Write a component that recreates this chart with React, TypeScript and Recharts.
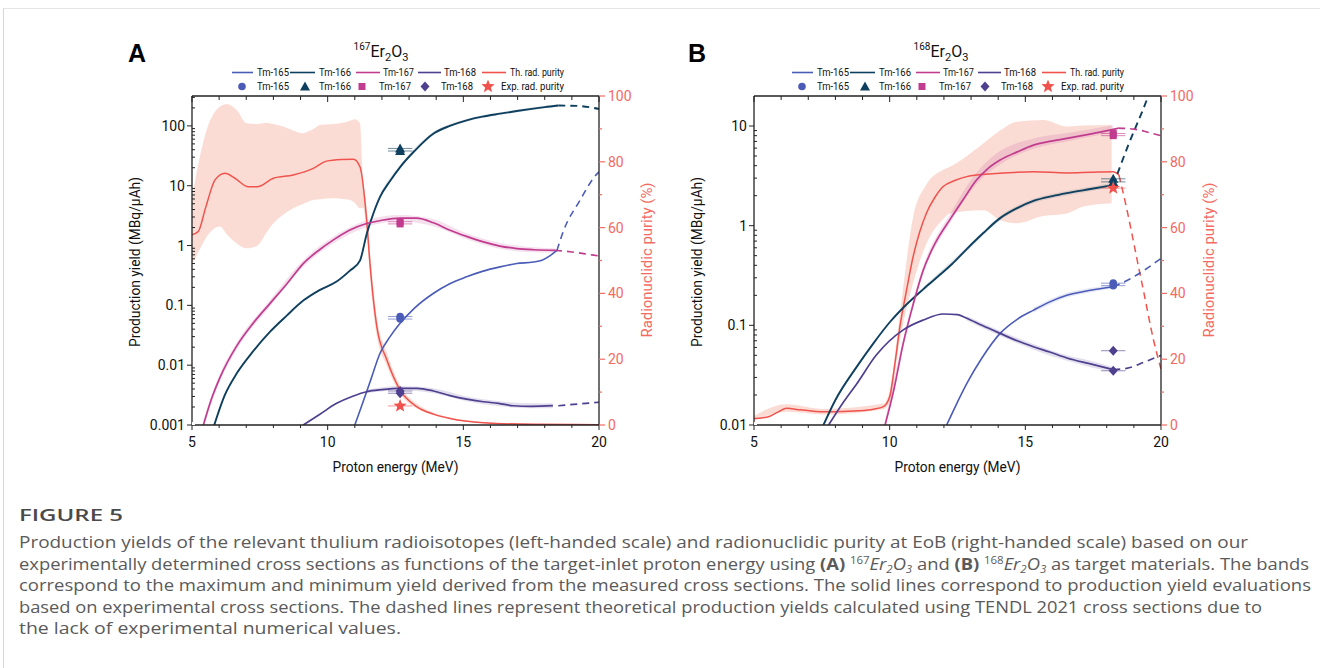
import React from "react";
import { ComposedChart, Line, Area, Scatter, XAxis, YAxis, ErrorBar } from "recharts";

const FONT = "Roboto, 'Liberation Sans', sans-serif";
const CAP_FONT = "'Open Sans', 'Noto Sans', sans-serif";

const C165 = "#4b5cb8";
const C166 = "#0e3f5e";
const C167 = "#c13c8f";
const C168 = "#4f3f8f";
const CRED = "#f0524d";
const RAXIS = "#f46a62";
const AXC = "#222";

/* ---------- shared axes ---------- */
const E_TICKS = [5, 6, 7, 8, 9, 10, 11, 12, 13, 14, 15, 16, 17, 18, 19, 20];
const P_TICKS = [0, 10, 20, 30, 40, 50, 60, 70, 80, 90, 100];
const A_DECADES = [0.001, 0.01, 0.1, 1, 10, 100];
const B_DECADES = [0.01, 0.1, 1, 10];

/* ---------- panel A: 167Er2O3 ---------- */
const A_E165 = [11.0, 11.3, 11.6, 11.93, 12.3, 12.67, 13.2, 13.89, 14.5, 15.12, 15.7, 16.35, 16.97, 17.58, 17.9, 18.2, 18.45];
const A_Y165 = [0.001, 0.0024, 0.0059, 0.0158, 0.03, 0.05, 0.09, 0.158, 0.23, 0.3, 0.37, 0.44, 0.5, 0.53, 0.57, 0.68, 0.83];
const A_E165D = [18.45, 18.7, 19.3, 19.85, 20];
const A_Y165D = [0.83, 1.8, 5.7, 14.4, 17];

const A_E166 = [5.82, 6.2, 6.65, 7.25, 7.87, 8.5, 9.1, 9.7, 10.33, 10.82, 11.19, 11.44, 11.7, 11.93, 12.3, 12.67, 13.2, 13.89, 14.5, 15.12, 15.7, 16.35, 16.97, 17.58, 18.0, 18.5];
const A_Y166 = [0.001, 0.0031, 0.0073, 0.017, 0.036, 0.068, 0.12, 0.18, 0.25, 0.38, 0.56, 1.58, 3.6, 6.5, 12, 20.5, 38, 74, 100, 124, 143, 160, 177, 194, 206, 219];
const A_E166D = [18.5, 19.2, 19.8, 20];
const A_Y166D = [219, 216, 200, 192];
const A_EB166 = [11.19, 11.93, 12.67, 13.89, 15.12, 16.35, 17.58, 18.5];
const A_LO166 = [0.54, 6.0, 19, 69, 117, 152, 184, 208];
const A_HI166 = [0.59, 7.0, 22, 79, 131, 168, 204, 230];

const A_E167 = [5.42, 5.7, 6.03, 6.65, 7.25, 7.87, 8.5, 9.1, 9.7, 10.2, 10.8, 11.44, 12.0, 12.67, 13.28, 13.9, 14.51, 15.12, 15.74, 16.35, 16.97, 17.6, 18.38];
const A_Y167 = [0.001, 0.0026, 0.0062, 0.021, 0.05, 0.107, 0.23, 0.5, 0.85, 1.23, 1.8, 2.33, 2.65, 2.87, 2.87, 2.4, 1.8, 1.42, 1.15, 0.98, 0.89, 0.85, 0.83];
const A_E167D = [18.38, 19.0, 19.8, 20];
const A_Y167D = [0.83, 0.78, 0.69, 0.67];
const A_EB167 = [5.42, 6.03, 6.65, 7.87, 9.1, 10.2, 11.44, 12.67, 13.9, 15.12, 16.35, 17.6, 18.38];
const A_LO167 = [0.0009, 0.0054, 0.0185, 0.095, 0.44, 1.08, 2.05, 2.55, 2.1, 1.27, 0.88, 0.77, 0.76];
const A_HI167 = [0.0012, 0.0072, 0.024, 0.122, 0.57, 1.4, 2.65, 3.25, 2.75, 1.6, 1.1, 0.94, 0.9];

const A_E168 = [9.1, 9.7, 10.33, 10.9, 11.44, 12.0, 12.67, 13.3, 13.9, 14.51, 15.12, 15.74, 16.3, 16.84, 17.5, 18.3];
const A_Y168 = [0.001, 0.0015, 0.0023, 0.003, 0.0036, 0.0039, 0.0041, 0.0041, 0.0037, 0.0031, 0.0027, 0.00245, 0.0023, 0.0021, 0.00205, 0.0021];
const A_E168D = [18.5, 20];
const A_Y168D = [0.0021, 0.0024];
const A_EB168 = [11.44, 12.67, 13.9, 15.12, 16.35, 17.5, 18.3];
const A_LO168 = [0.0034, 0.0038, 0.0034, 0.0025, 0.00205, 0.0019, 0.0019];
const A_HI168 = [0.0039, 0.0045, 0.0041, 0.003, 0.0025, 0.0023, 0.0023];

// theoretical radionuclidic purity (%), right axis
const A_EP = [5.0, 5.23, 5.5, 5.85, 6.22, 6.58, 7.08, 7.4, 8.0, 8.73, 9.47, 9.96, 10.5, 10.95, 11.19, 11.44, 11.56, 11.81, 12.18, 12.67, 13.28, 13.9, 14.51, 15.74, 17.6, 20];
const A_P = [57.8, 58.8, 66, 74.5, 76.5, 75, 72.4, 72.4, 75, 76, 78, 80.2, 80.7, 80.8, 78.5, 62, 49, 30, 19.8, 10.6, 5.6, 3.3, 2, 0.7, 0.2, 0.1];
const A_EB = [5.0, 5.2, 5.54, 6.03, 6.28, 6.65, 7.02, 7.4, 7.75, 8.0, 8.37, 8.73, 9.04, 9.47, 9.72, 10.21, 10.46, 10.83, 11.0, 11.19, 11.3, 11.44, 11.56, 11.81, 12.18, 12.67, 13.28, 13.9, 14.51, 15.74, 17.6, 20];
const A_BHI = [68.9, 78, 89.7, 96.8, 97.6, 95.7, 91.7, 91.5, 91.9, 91.5, 90.7, 89.5, 88.7, 90, 91.2, 91.5, 91.7, 92.5, 92.9, 91.7, 75, 66, 53, 33, 22, 12, 6.5, 3.8, 2.3, 0.8, 0.3, 0.2];
const A_BLO = [49, 52, 57.2, 60.3, 58, 55.2, 53.7, 54.5, 58.5, 61.3, 64, 65.9, 67, 68.4, 68.6, 68.9, 68.8, 68.4, 67.5, 65.9, 66, 58, 45, 27, 18, 9.5, 5, 3, 1.8, 0.6, 0.1, 0];

// measurements at 12.67 MeV
const A_XEXP = 12.67;
const A_EXP165 = [0.065, 0.059];
const A_EXP166 = [42, 38];
const A_EXP167 = [2.5, 2.3];
const A_EXP168 = [0.0037, 0.0034];
const A_EXPPUR = [5.8];

/* ---------- panel B: 168Er2O3 ---------- */
const B_E165 = [12.1, 12.5, 12.84, 13.4, 14.07, 14.7, 15.3, 15.9, 16.53, 17.4, 18.24];
const B_Y165 = [0.01, 0.017, 0.026, 0.047, 0.083, 0.115, 0.142, 0.172, 0.2, 0.225, 0.244];
const B_E165D = [18.24, 18.73, 19.4, 20];
const B_Y165D = [0.244, 0.28, 0.36, 0.47];
const B_EB165 = [15.3, 16.53, 17.4, 18.24];
const B_LO165 = [0.134, 0.19, 0.214, 0.234];
const B_HI165 = [0.15, 0.212, 0.237, 0.256];

const B_E166 = [7.56, 8.0, 8.79, 9.4, 10.01, 10.6, 11.24, 11.8, 12.3, 12.84, 13.45, 14.07, 14.7, 15.3, 16.0, 16.53, 17.4, 18.24];
const B_Y166 = [0.01, 0.0178, 0.0385, 0.066, 0.108, 0.16, 0.231, 0.312, 0.412, 0.582, 0.843, 1.19, 1.5, 1.77, 1.98, 2.12, 2.33, 2.55];
const B_E166D = [18.24, 18.8, 19.45, 19.7];
const B_Y166D = [2.55, 6.5, 17.5, 27];
const B_EB166 = [11.24, 12.84, 14.07, 15.3, 16.53, 18.24];
const B_LO166 = [0.22, 0.55, 1.13, 1.68, 2.01, 2.42];
const B_HI166 = [0.243, 0.61, 1.25, 1.86, 2.23, 2.68];

const B_E167 = [9.83, 10.16, 10.5, 10.86, 11.24, 11.67, 12.22, 12.7, 13.2, 13.6, 14.07, 14.7, 15.3, 15.9, 16.53, 17.38, 18.24, 18.42];
const B_Y167 = [0.01, 0.023, 0.066, 0.16, 0.359, 0.66, 1.15, 1.81, 2.87, 3.7, 4.55, 5.5, 6.43, 7.0, 7.5, 8.3, 9.25, 9.5];
const B_E167D = [18.42, 19.0, 19.7, 20];
const B_Y167D = [9.5, 9.3, 8.4, 8.0];
const B_EB167 = [9.83, 10.5, 11.24, 12.22, 13.2, 14.07, 15.3, 16.53, 17.4, 18.24];
const B_LO167 = [0.009, 0.06, 0.33, 1.05, 2.6, 4.1, 5.9, 7.0, 7.8, 8.6];
const B_HI167 = [0.011, 0.073, 0.4, 1.3, 3.4, 5.6, 7.5, 8.5, 9.3, 10.2];

const B_E168 = [7.75, 8.3, 8.79, 9.5, 10.5, 11.24, 11.97, 12.5, 12.84, 13.4, 14.07, 14.7, 15.3, 15.9, 16.53, 17.4, 18.24];
const B_Y168 = [0.01, 0.017, 0.026, 0.05, 0.09, 0.113, 0.13, 0.128, 0.118, 0.1, 0.083, 0.07, 0.061, 0.054, 0.047, 0.041, 0.036];
const B_E168D = [18.24, 18.73, 19.4, 20];
const B_Y168D = [0.036, 0.037, 0.043, 0.05];
const B_EB168 = [12.84, 14.07, 15.3, 16.53, 17.4, 18.24];
const B_LO168 = [0.112, 0.078, 0.057, 0.044, 0.038, 0.034];
const B_HI168 = [0.124, 0.088, 0.065, 0.05, 0.044, 0.038];

const B_EP = [5.0, 5.5, 5.9, 6.2, 6.7, 7.2, 7.56, 8.2, 8.79, 9.4, 9.77, 10.0, 10.2, 10.38, 10.6, 10.86, 11.1, 11.35, 11.65, 11.96, 12.4, 12.84, 13.5, 14.07, 15.3, 16.53, 17.4, 18.24, 18.45];
const B_P = [2.0, 2.4, 4.0, 5.1, 4.6, 4.2, 4.0, 4.1, 4.3, 4.8, 5.6, 8.6, 19, 30, 40, 51, 58.5, 64.3, 69, 72.4, 74.3, 75.5, 76.2, 76.5, 77, 76.6, 76.8, 77, 76];
const B_EPD = [18.45, 18.73, 18.98, 19.1, 19.35, 19.72, 20];
const B_PD = [76, 66, 56, 51, 41, 26, 17];
const B_EB = [5.0, 6.2, 7.56, 9.77, 10.0, 10.38, 10.86, 11.35, 11.96, 12.22, 13.45, 14.07, 14.68, 15.66, 16.53, 17.14, 18.18];
const B_BHI = [2.8, 6.3, 4.9, 6.5, 10.5, 34, 63, 73, 77.5, 78.5, 85.6, 89.5, 92.2, 92.7, 90.7, 91, 91.2];
const B_BLO = [1.3, 4.0, 3.2, 4.8, 7.0, 26, 43, 55, 62.5, 64.3, 65.3, 62.3, 61.3, 63.5, 64.3, 66.4, 67.4];

// measurements at 18.24 MeV
const B_XEXP = 18.24;
const B_EXP165 = [0.265, 0.25];
const B_EXP166 = [2.95, 2.75];
const B_EXP167 = [8.4, 8.0];
const B_EXP168 = [0.0556, 0.035];
const B_EXPPUR = [72];
const EXP_ERR = 0.45;

/* ---------- helpers ---------- */
const pts = (xs: number[], ys: number[]) => xs.map((x, i) => ({ x, y: ys[i] }));
const band = (xs: number[], lo: number[], hi: number[]) => xs.map((x, i) => ({ x, r: [lo[i], hi[i]] }));
const meas = (x: number, ys: number[]) => ys.map((y) => ({ x, y, ex: EXP_ERR }));

function logTicks(decades: number[], max: number) {
  const out: number[] = [];
  decades.forEach((d) => {
    for (let k = 1; k < 10; k++) {
      const v = +(k * d).toPrecision(3);
      if (v < max * 0.999) out.push(v);
    }
  });
  return out;
}
const isDecade = (v: number) => Math.abs(Math.log10(v) - Math.round(Math.log10(v))) < 1e-9;

function starPts(cx: number, cy: number, R: number, r: number) {
  const p: string[] = [];
  for (let i = 0; i < 10; i++) {
    const a = -Math.PI / 2 + (i * Math.PI) / 5;
    const rad = i % 2 === 0 ? R : r;
    p.push(`${cx + rad * Math.cos(a)},${cy + rad * Math.sin(a)}`);
  }
  return p.join(" ");
}

function Marker({ kind, cx, cy, color }: any) {
  if (kind === "circle") return <circle cx={cx} cy={cy} r={3.8} fill={color} />;
  if (kind === "triangle")
    return <polygon points={`${cx},${cy - 5} ${cx - 5},${cy + 4} ${cx + 5},${cy + 4}`} fill={color} />;
  if (kind === "square") return <rect x={cx - 3.5} y={cy - 3.5} width={7} height={7} fill={color} />;
  if (kind === "diamond")
    return <polygon points={`${cx},${cy - 5} ${cx + 4.5},${cy} ${cx},${cy + 5} ${cx - 4.5},${cy}`} fill={color} />;
  return <polygon points={starPts(cx, cy, 7, 3)} fill={color} />;
}

/* ---------- tick renderers ---------- */
const LeftTick = (p: any) => {
  const v = p.payload.value;
  const major = isDecade(v);
  return (
    <g>
      <line x1={p.x} x2={major ? p.x - 5 : p.x + 3} y1={p.y} y2={p.y} stroke={AXC} strokeWidth={1} />
      {major && (
        <text x={p.x - 7} y={p.y + 5} textAnchor="end" fontSize={14} fontFamily={FONT} fill="#111">
          {String(v)}
        </text>
      )}
    </g>
  );
};
const RightTick = (p: any) => {
  const v = p.payload.value;
  const major = v % 20 === 0;
  return (
    <g>
      <line x1={p.x} x2={p.x + (major ? 6 : 3)} y1={p.y} y2={p.y} stroke={RAXIS} strokeWidth={1.2} />
      {major && (
        <text x={p.x + 9} y={p.y + 5} textAnchor="start" fontSize={14} fontFamily={FONT} fill={RAXIS}>
          {v}
        </text>
      )}
    </g>
  );
};
const BottomTick = (p: any) => {
  const v = p.payload.value;
  const major = v % 5 === 0;
  return (
    <g>
      <line x1={p.x} x2={p.x} y1={p.y} y2={p.y + (major ? 5 : 3)} stroke={AXC} strokeWidth={1} />
      {major && (
        <text x={p.x} y={p.y + 22} textAnchor="middle" fontSize={14} fontFamily={FONT} fill="#111">
          {v}
        </text>
      )}
    </g>
  );
};
const TopTick = (p: any) => {
  const v = p.payload.value;
  const major = v % 5 === 0;
  return <line x1={p.x} x2={p.x} y1={p.y} y2={p.y + (major ? 6 : 4)} stroke={AXC} strokeWidth={1} />;
};

/* ---------- panel configs ---------- */
const PANEL_A = {
  logDomain: [0.001, 316],
  decades: A_DECADES,
  bands: [
    { data: band(A_EB, A_BLO, A_BHI), axis: "r", fill: "#f7c4b8", op: 0.6 },
    { data: band(A_EB167, A_LO167, A_HI167), axis: "l", fill: C167, op: 0.16 },
    { data: band(A_EB168, A_LO168, A_HI168), axis: "l", fill: C168, op: 0.16 },
    { data: band(A_EB166, A_LO166, A_HI166), axis: "l", fill: C166, op: 0.12 },
  ],
  lines: [
    { data: pts(A_EP, A_P), axis: "r", color: CRED, w: 1.5 },
    { data: pts(A_E166, A_Y166), axis: "l", color: C166, w: 1.9 },
    { data: pts(A_E167, A_Y167), axis: "l", color: C167, w: 1.7 },
    { data: pts(A_E165, A_Y165), axis: "l", color: C165, w: 1.6 },
    { data: pts(A_E168, A_Y168), axis: "l", color: C168, w: 1.7 },
    { data: pts(A_E166D, A_Y166D), axis: "l", color: C166, w: 1.9, dash: true },
    { data: pts(A_E167D, A_Y167D), axis: "l", color: C167, w: 1.7, dash: true },
    { data: pts(A_E165D, A_Y165D), axis: "l", color: C165, w: 1.6, dash: true },
    { data: pts(A_E168D, A_Y168D), axis: "l", color: C168, w: 1.7, dash: true },
  ],
  points: [
    { data: meas(A_XEXP, A_EXP166), axis: "l", color: C166, kind: "triangle" },
    { data: meas(A_XEXP, A_EXP167), axis: "l", color: C167, kind: "square" },
    { data: meas(A_XEXP, A_EXP165), axis: "l", color: C165, kind: "circle" },
    { data: meas(A_XEXP, A_EXP168), axis: "l", color: C168, kind: "diamond" },
    { data: meas(A_XEXP, A_EXPPUR), axis: "r", color: CRED, kind: "star" },
  ],
};

const PANEL_B = {
  logDomain: [0.01, 20],
  decades: B_DECADES,
  bands: [
    { data: band(B_EB, B_BLO, B_BHI), axis: "r", fill: "#f7c4b8", op: 0.6 },
    { data: band(B_EB167, B_LO167, B_HI167), axis: "l", fill: C167, op: 0.16 },
    { data: band(B_EB168, B_LO168, B_HI168), axis: "l", fill: C168, op: 0.16 },
    { data: band(B_EB165, B_LO165, B_HI165), axis: "l", fill: C165, op: 0.14 },
    { data: band(B_EB166, B_LO166, B_HI166), axis: "l", fill: C166, op: 0.12 },
  ],
  lines: [
    { data: pts(B_EP, B_P), axis: "r", color: CRED, w: 1.5 },
    { data: pts(B_EPD, B_PD), axis: "r", color: CRED, w: 1.5, dash: true },
    { data: pts(B_E166, B_Y166), axis: "l", color: C166, w: 1.9 },
    { data: pts(B_E167, B_Y167), axis: "l", color: C167, w: 1.7 },
    { data: pts(B_E165, B_Y165), axis: "l", color: C165, w: 1.6 },
    { data: pts(B_E168, B_Y168), axis: "l", color: C168, w: 1.7 },
    { data: pts(B_E166D, B_Y166D), axis: "l", color: C166, w: 1.9, dash: true },
    { data: pts(B_E167D, B_Y167D), axis: "l", color: C167, w: 1.7, dash: true },
    { data: pts(B_E165D, B_Y165D), axis: "l", color: C165, w: 1.6, dash: true },
    { data: pts(B_E168D, B_Y168D), axis: "l", color: C168, w: 1.7, dash: true },
  ],
  points: [
    { data: meas(B_XEXP, B_EXP167), axis: "l", color: C167, kind: "square" },
    { data: meas(B_XEXP, B_EXP166), axis: "l", color: C166, kind: "triangle" },
    { data: meas(B_XEXP, B_EXP165), axis: "l", color: C165, kind: "circle" },
    { data: meas(B_XEXP, B_EXP168), axis: "l", color: C168, kind: "diamond" },
    { data: meas(B_XEXP, B_EXPPUR), axis: "r", color: CRED, kind: "star" },
  ],
};

const AX = { stroke: AXC, strokeWidth: 1.3 };

function Panel({ left, cfg }: any) {
  return (
    <div style={{ position: "absolute", left, top: 80 }}>
      <ComposedChart width={560} height={380} margin={{ top: 10, right: 41, bottom: 10, left: 32 }}>
        <XAxis xAxisId="b" type="number" dataKey="x" domain={[5, 20]} ticks={E_TICKS} interval={0}
          allowDataOverflow height={25} tickSize={0} tickMargin={0} tickLine={false} axisLine={AX} tick={BottomTick} />
        <XAxis xAxisId="t" orientation="top" type="number" dataKey="x" domain={[5, 20]} ticks={E_TICKS} interval={0}
          allowDataOverflow height={6} tickSize={0} tickMargin={0} tickLine={false} axisLine={AX} tick={TopTick} />
        <YAxis yAxisId="l" type="number" dataKey="y" scale="log" domain={cfg.logDomain} ticks={logTicks(cfg.decades, cfg.logDomain[1])}
          interval={0} allowDataOverflow width={40} tickSize={0} tickMargin={0} tickLine={false} axisLine={AX} tick={LeftTick} />
        <YAxis yAxisId="r" orientation="right" type="number" dataKey="y" domain={[0, 100]} ticks={P_TICKS} interval={0}
          allowDataOverflow width={40} tickSize={0} tickMargin={0} tickLine={false} axisLine={AX} tick={RightTick} />
        {/* anchor for the top frame axis */}
        <Line xAxisId="t" yAxisId="r" data={[{ x: 5, y: 0 }]} dataKey="y" stroke="none" dot={false} isAnimationActive={false} />
        {cfg.bands.map((b: any, i: number) => (
          <Area key={"b" + i} xAxisId="b" yAxisId={b.axis} data={b.data} dataKey="r" type="monotone"
            stroke="none" fill={b.fill} fillOpacity={b.op} isAnimationActive={false} />
        ))}
        {cfg.lines.map((l: any, i: number) => (
          <Line key={"l" + i} xAxisId="b" yAxisId={l.axis} data={l.data} dataKey="y" type="monotone"
            stroke={l.color} strokeWidth={l.w} strokeDasharray={l.dash ? "7 5" : undefined}
            dot={false} activeDot={false} isAnimationActive={false} />
        ))}
        {cfg.points.map((s: any, i: number) => (
          <Scatter key={"s" + i} xAxisId="b" yAxisId={s.axis} data={s.data} dataKey="y" isAnimationActive={false}
            shape={(p: any) => <Marker kind={s.kind} cx={p.cx} cy={p.cy} color={s.color} />}>
            <ErrorBar dataKey="ex" direction="x" width={0} stroke={s.color} strokeOpacity={0.6} strokeWidth={1} />
          </Scatter>
        ))}
      </ComposedChart>
    </div>
  );
}

/* ---------- legend / titles ---------- */
const LEG_LINES = [
  { x1: 232, x2: 253, tx: 257, tw: 32, label: "Tm-165", color: C165 },
  { x1: 290, x2: 315, tx: 319, tw: 32, label: "Tm-166", color: C166 },
  { x1: 356, x2: 380, tx: 383, tw: 31, label: "Tm-167", color: C167 },
  { x1: 418, x2: 441, tx: 444, tw: 32, label: "Tm-168", color: C168 },
  { x1: 482, x2: 506, tx: 510, tw: 54, label: "Th. rad. purity", color: CRED },
];
const LEG_MARKS = [
  { mx: 242, tx: 257, tw: 32, label: "Tm-165", color: C165, kind: "circle" },
  { mx: 305, tx: 319, tw: 32, label: "Tm-166", color: C166, kind: "triangle" },
  { mx: 362, tx: 379, tw: 32, label: "Tm-167", color: C167, kind: "square" },
  { mx: 425, tx: 441, tw: 32, label: "Tm-168", color: C168, kind: "diamond" },
  { mx: 488, tx: 501, tw: 63, label: "Exp. rad. purity", color: CRED, kind: "star" },
];

function PanelText({ dx, letter, iso, plotL, plotR }: any) {
  const midX = (plotL + plotR) / 2;
  return (
    <g fontFamily={FONT}>
      <text x={128 + dx} y={62} fontSize={25} fontWeight="bold" fontFamily="'Liberation Sans', Arial, sans-serif" fill="#000">
        {letter}
      </text>
      <text x={381 + dx} y={57} fontSize={16} textAnchor="middle" fill="#111">
        <tspan fontSize={10} dy={-7}>{iso}</tspan>
        <tspan dy={7}>Er</tspan>
        <tspan fontSize={11} dy={4}>2</tspan>
        <tspan dy={-4}>O</tspan>
        <tspan fontSize={11} dy={4}>3</tspan>
      </text>
      {LEG_LINES.map((l) => (
        <g key={l.label}>
          <line x1={l.x1 + dx} x2={l.x2 + dx} y1={72.5} y2={72.5} stroke={l.color} strokeWidth={1.6} />
          <text x={l.tx + dx} y={76} fontSize={10} fill="#111" textLength={l.tw} lengthAdjust="spacingAndGlyphs">
            {l.label}
          </text>
        </g>
      ))}
      {LEG_MARKS.map((m) => (
        <g key={m.label + m.kind}>
          <Marker kind={m.kind} cx={m.mx + dx} cy={86.5} color={m.color} />
          <text x={m.tx + dx} y={90} fontSize={10} fill="#111" textLength={m.tw} lengthAdjust="spacingAndGlyphs">
            {m.label}
          </text>
        </g>
      ))}
      <text x={midX} y={472} fontSize={15} textAnchor="middle" fill="#111" textLength={126} lengthAdjust="spacingAndGlyphs">
        Proton energy (MeV)
      </text>
      <text transform={`translate(${plotL - 52},262) rotate(-90)`} fontSize={15} textAnchor="middle" fill="#111"
        textLength={170} lengthAdjust="spacingAndGlyphs">
        Production yield (MBq/µAh)
      </text>
      <text transform={`translate(${plotR + 52.5},260) rotate(-90)`} fontSize={15} textAnchor="middle" fill={RAXIS}
        textLength={155} lengthAdjust="spacingAndGlyphs">
        Radionuclidic purity (%)
      </text>
    </g>
  );
}

const CAP_LINES = [
  "Production yields of the relevant thulium radioisotopes (left-handed scale) and radionuclidic purity at EoB (right-handed scale) based on our",
  "correspond to the maximum and minimum yield derived from the measured cross sections. The solid lines correspond to production yield evaluations",
  "based on experimental cross sections. The dashed lines represent theoretical production yields calculated using TENDL 2021 cross sections due to",
  "the lack of experimental numerical values.",
];

function Caption() {
  const fill = "#5a5a5a";
  return (
    <g fontFamily={CAP_FONT} fill={fill}>
      <text x={19} y={521} fontSize={17} fontWeight={600} fill="#4a4a4a" textLength={104} lengthAdjust="spacingAndGlyphs">
        FIGURE 5
      </text>
      <text x={19} y={548} fontSize={16} textLength={1229} lengthAdjust="spacingAndGlyphs">{CAP_LINES[0]}</text>
      <text x={19} y={569.5} fontSize={16} textLength={1290} lengthAdjust="spacingAndGlyphs">
        experimentally determined cross sections as functions of the target-inlet proton energy using{" "}
        <tspan fontWeight={700}>(A)</tspan> <tspan fontSize={10} dy={-6}>167</tspan>
        <tspan fontStyle="italic" dy={6}>Er</tspan><tspan fontStyle="italic" fontSize={10} dy={3}>2</tspan>
        <tspan fontStyle="italic" dy={-3}>O</tspan><tspan fontStyle="italic" fontSize={10} dy={3}>3</tspan>
        <tspan dy={-3}> and </tspan><tspan fontWeight={700}>(B)</tspan> <tspan fontSize={10} dy={-6}>168</tspan>
        <tspan fontStyle="italic" dy={6}>Er</tspan><tspan fontStyle="italic" fontSize={10} dy={3}>2</tspan>
        <tspan fontStyle="italic" dy={-3}>O</tspan><tspan fontStyle="italic" fontSize={10} dy={3}>3</tspan>
        <tspan dy={-3}> as target materials. The bands</tspan>
      </text>
      <text x={19} y={591} fontSize={16} textLength={1292} lengthAdjust="spacingAndGlyphs">{CAP_LINES[1]}</text>
      <text x={19} y={612.5} fontSize={16} textLength={1243} lengthAdjust="spacingAndGlyphs">{CAP_LINES[2]}</text>
      <text x={19} y={634} fontSize={16} textLength={382} lengthAdjust="spacingAndGlyphs">{CAP_LINES[3]}</text>
    </g>
  );
}

export default function App() {
  return (
    <div style={{ position: "absolute", left: 0, top: 0, width: 1320, height: 668, background: "#fff", overflow: "hidden" }}>
      <div style={{ position: "absolute", left: 3, top: 8, width: 1317, height: 660, borderLeft: "1px solid #d6d6d6", borderTop: "1px solid #e4e4e4" }} />
      <Panel left={120} cfg={PANEL_A} />
      <Panel left={682} cfg={PANEL_B} />
      <svg width={1320} height={668} style={{ position: "absolute", left: 0, top: 0, pointerEvents: "none" }}>
        <PanelText dx={0} letter="A" iso="167" plotL={192} plotR={599} />
        <PanelText dx={560} letter="B" iso="168" plotL={754} plotR={1161} />
        <Caption />
      </svg>
    </div>
  );
}
